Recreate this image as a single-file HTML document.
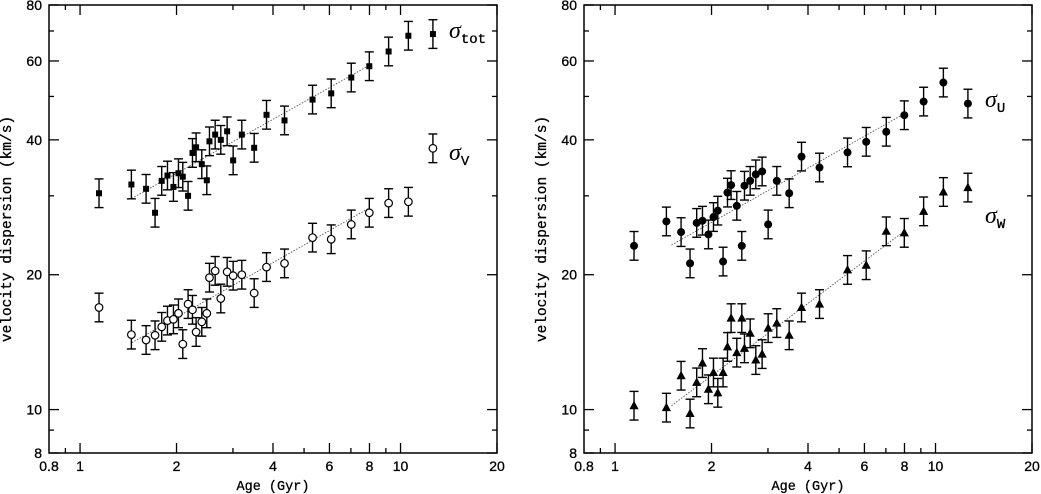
<!DOCTYPE html>
<html><head><meta charset="utf-8"><style>
html,body{margin:0;padding:0;background:#fff;}
svg{display:block;}
</style></head><body>
<svg id="chart" width="1041" height="494" viewBox="0 0 1041 494" xmlns="http://www.w3.org/2000/svg"></svg>
<script>
const ages = [1.146,1.446,1.607,1.714,1.798,1.874,1.956,2.028,2.092,2.173,2.243,2.302,2.398,2.486,2.534,2.640,2.749,2.877,3.004,3.197,3.494,3.818,4.345,5.314,6.077,7.019,7.99,9.18,10.58];
const ageLegend = 12.62;
const sigTot = [30.4,31.8,31.1,27.5,32.4,33.3,31.4,33.7,33.1,30.0,37.4,38.5,35.3,32.5,39.7,41.1,40.0,41.8,36.0,41.1,38.4,45.5,44.2,49.2,50.8,55.1,58.4,63.0,68.3];
const sigV = [16.9,14.7,14.3,14.65,15.3,15.8,15.9,16.4,14.0,17.2,16.7,14.9,15.7,16.4,19.7,20.4,17.7,20.3,19.9,20.0,18.2,20.8,21.2,24.2,24.0,25.9,27.5,28.9,29.1];
const legendTot = 68.9, legendV = 38.3;
const agesR = [1.146,1.446,1.607,1.714,1.798,1.874,1.956,2.028,2.092,2.173,2.243,2.302,2.398,2.486,2.534,2.640,2.749,2.877,3.004,3.197,3.494,3.818,4.345,5.314,6.077,7.019,7.99,9.18,10.58,12.62];
const sigU = [23.2,26.3,24.9,21.2,26.1,26.4,24.6,26.9,27.8,21.4,30.5,31.7,28.5,23.2,31.6,32.4,33.5,34.0,25.9,32.4,30.4,36.7,34.7,37.5,39.6,41.7,45.4,48.7,53.7,48.2];
const sigW = [10.2,10.1,11.9,9.8,11.5,12.7,11.1,12.1,10.9,12.1,13.8,16.0,13.4,16.0,13.7,14.8,12.9,13.3,15.2,15.6,14.65,16.9,17.2,20.5,21.0,25.0,24.8,27.7,30.6,31.3];
const fitAges = [1.45, 8.0];
const fitTot = [29.6, 58.7];
const fitV = [14.1, 28.2];
const fitU = [23.3, 46.0];
const fitW = [10.2, 25.2];
const xTicksMajor = [1,2,4,6,8,10,20];
const xTicksMinor = [0.9,3,5,7,9];
const xLabels = ["0.8","1","2","4","6","8","10","20"];
const xLabelVals = [0.8,1,2,4,6,8,10,20];
const yMajor = [10,20,40,60,80,8];
const yMinor = [9,30,50,70];
const yLabels = ["8","10","20","40","60","80"];
const yLabelVals = [8,10,20,40,60,80];
const errDex = 0.032;

const NS="http://www.w3.org/2000/svg";
const svg=document.getElementById('chart');
function mk(tag,attrs,parent){const e=document.createElementNS(NS,tag);for(const k in attrs)e.setAttribute(k,attrs[k]);(parent||svg).appendChild(e);return e;}
const Y0=5,Y1=453;
function yScale(v){return Y1-(Math.log10(v/8))*(Y1-Y0);}
function makeX(x0,x1){return a=>x0+Math.log(a/0.8)/Math.log(25)*(x1-x0);}

function panel(x0,x1,name){
  const g=mk('g',{});
  
  
  const xs=makeX(x0,x1);
  const f=mk('rect',{x:x0,y:Y0,width:x1-x0,height:Y1-Y0,fill:'none',stroke:'#000','stroke-width':1.5},g);
  
  const ax=mk('g',{stroke:'#000','stroke-width':1.3},g);
  
  xTicksMajor.forEach(t=>{const x=xs(t);mk('line',{x1:x,y1:Y1,x2:x,y2:Y1-10},ax);mk('line',{x1:x,y1:Y0,x2:x,y2:Y0+10},ax);});
  xTicksMinor.forEach(t=>{const x=xs(t);mk('line',{x1:x,y1:Y1,x2:x,y2:Y1-5},ax);mk('line',{x1:x,y1:Y0,x2:x,y2:Y0+5},ax);});
  yMajor.forEach(t=>{const y=yScale(t);mk('line',{x1:x0,y1:y,x2:x0+10,y2:y},ax);mk('line',{x1:x1,y1:y,x2:x1-10,y2:y},ax);});
  yMinor.forEach(t=>{const y=yScale(t);mk('line',{x1:x0,y1:y,x2:x0+5,y2:y},ax);mk('line',{x1:x1,y1:y,x2:x1-5,y2:y},ax);});
  xLabels.forEach((l,i)=>{const t=mk('text',{x:xs(xLabelVals[i]),y:471,'text-anchor':'middle','font-family':'Liberation Sans, sans-serif','font-size':14,stroke:'#000','stroke-width':0.3},g);t.textContent=l;
    });
  yLabels.forEach((l,i)=>{const t=mk('text',{x:x0-7,y:yScale(yLabelVals[i])+5,'text-anchor':'end','font-family':'Liberation Sans, sans-serif','font-size':14,stroke:'#000','stroke-width':0.3},g);t.textContent=l;
    });
  const xt=mk('text',{x:(x0+x1)/2,y:490,'text-anchor':'middle','font-family':'Liberation Mono, monospace','font-size':13.5,stroke:'#000','stroke-width':0.3},g);xt.textContent='Age (Gyr)';
  
  const yt=mk('text',{x:0,y:0,'text-anchor':'middle','font-family':'Liberation Mono, monospace','font-size':14.5,stroke:'#000','stroke-width':0.3,transform:`translate(${x0-38},229) rotate(-90)`},g);yt.textContent='velocity dispersion (km/s)';
  
  return {g,xs};
}
function fit(p,fa,fv,name){
  const l=mk('line',{x1:p.xs(fa[0]),y1:yScale(fv[0]),x2:p.xs(fa[1]),y2:yScale(fv[1]),stroke:'#555','stroke-width':0.9,'stroke-dasharray':'1.5 1.5'},p.g);
  
}
function marker(g,type,x,y){
  if(type==='square')return mk('rect',{x:x-3,y:y-3,width:6,height:6,fill:'#000'},g);
  if(type==='circle')return mk('circle',{cx:x,cy:y,r:3.8,fill:'#fff',stroke:'#000','stroke-width':1.2},g);
  if(type==='dot')return mk('circle',{cx:x,cy:y,r:4,fill:'#000'},g);
  return mk('polygon',{points:`${x},${y-5} ${x-4.6},${y+3.5} ${x+4.6},${y+3.5}`,fill:'#000'},g);
}
function point(p,type,a,v,name){
  const g=mk('g',{},p.g);
  
  
  const x=p.xs(a),y=yScale(v);
  const yt=yScale(v*Math.pow(10,errDex)),yb=yScale(v/Math.pow(10,errDex));
  const s={stroke:'#000','stroke-width':1.4};
  mk('line',Object.assign({x1:x,y1:yt,x2:x,y2:yb},s),g);
  mk('line',Object.assign({x1:x-4.5,y1:yt,x2:x+4.5,y2:yt},s),g);
  mk('line',Object.assign({x1:x-4.5,y1:yb,x2:x+4.5,y2:yb},s),g);
  marker(g,type,x,y);
}
function sigmaLabel(parent,x,y,sub,name){
  const t=mk('text',{x:x,y:y,'font-family':'Liberation Serif, serif','font-size':24,'font-style':'italic'},parent);
  
  t.textContent='σ';
  const s=mk('tspan',{dy:5,'font-size':14,'font-style':'normal','font-family':'Liberation Mono, monospace',stroke:'#000','stroke-width':0.3},t);
  s.textContent=sub;
}

const L=panel(49,497,'left-panel');
fit(L,fitAges,fitTot,'fit-line-tot');
fit(L,fitAges,fitV,'fit-line-v');
ages.forEach((a,i)=>point(L,'square',a,sigTot[i],'point-sigma-tot'));
ages.forEach((a,i)=>point(L,'circle',a,sigV[i],'point-sigma-v'));
point(L,'square',ageLegend,legendTot,'legend-marker-tot');
point(L,'circle',ageLegend,legendV,'legend-marker-v');
sigmaLabel(L.g,449,38,'tot','legend-label-tot');
sigmaLabel(L.g,449,160,'V','legend-label-v');

const R=panel(584,1032,'right-panel');
fit(R,[1.5,8.1],fitU,'fit-line-u');
fit(R,[1.5,8.1],fitW,'fit-line-w');
agesR.forEach((a,i)=>point(R,'dot',a,sigU[i],'point-sigma-u'));
agesR.forEach((a,i)=>point(R,'tri',a,sigW[i],'point-sigma-w'));
sigmaLabel(R.g,985,107,'U','legend-label-u');
sigmaLabel(R.g,985,223,'W','legend-label-w');
</script>
</body></html>
